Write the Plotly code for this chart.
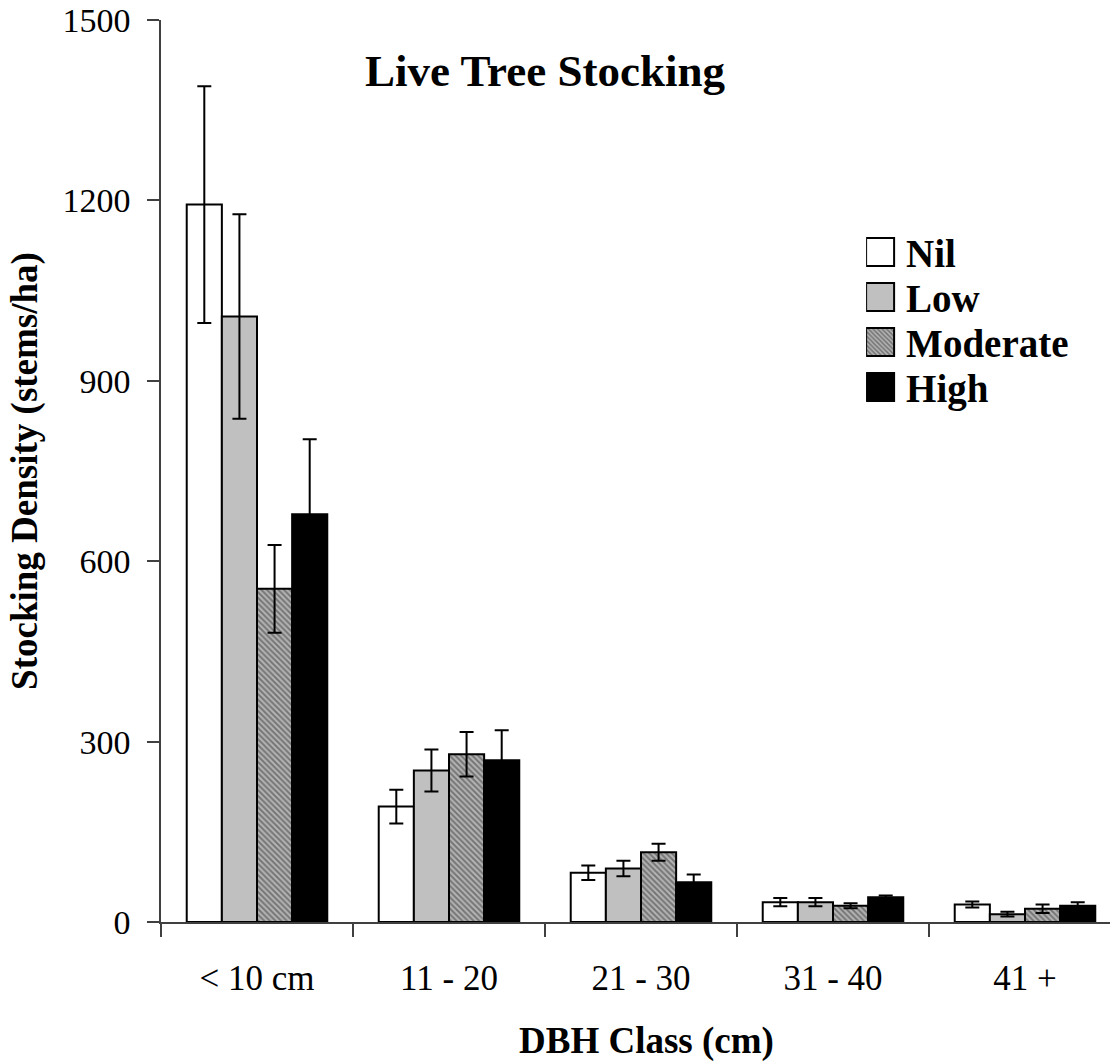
import plotly.graph_objects as go

categories = ["< 10 cm", "11 - 20", "21 - 30", "31 - 40", "41 +"]
series_names = ["Nil", "Low", "Moderate", "High"]
nil_vals = [1193, 192, 82, 33, 29]
nil_err = [197, 28, 12, 7, 5]
low_vals = [1007, 252, 89, 33, 13]
low_err = [170, 35, 13, 7, 4]
mod_vals = [554, 279, 116, 27, 22]
mod_err = [73, 37, 14, 4, 7]
high_vals = [678, 269, 66, 41, 27]
high_err = [125, 50, 13, 3, 6]
y_ticks = [0, 300, 600, 900, 1200, 1500]

FONT = "Liberation Serif, Times New Roman, Times, serif"

fig = go.Figure()

styles = {
    "Nil": dict(color="white"),
    "Low": dict(color="#c0c0c0"),
    "Moderate": dict(color="#8c8c8c",
                     pattern=dict(shape="\\", size=4, solidity=0.5,
                                  fgcolor="#363636", bgcolor="#b4b4b4",
                                  fillmode="overlay")),
    "High": dict(color="black"),
}
data = {
    "Nil": (nil_vals, nil_err),
    "Low": (low_vals, low_err),
    "Moderate": (mod_vals, mod_err),
    "High": (high_vals, high_err),
}

for name in series_names:
    vals, errs = data[name]
    marker = dict(line=dict(color="black", width=2), **styles[name])
    fig.add_trace(go.Bar(
        x=categories, y=vals, name=name, marker=marker,
        error_y=dict(type="data", array=errs, visible=True,
                     color="black", thickness=2, width=7),
    ))

fig.update_layout(
    width=1110, height=1063,
    margin=dict(l=161, r=0, t=20, b=141),
    paper_bgcolor="white", plot_bgcolor="white",
    barmode="group", bargap=0.268, bargroupgap=0,
    font=dict(family=FONT, color="black"),
    title=dict(text="<b>Live Tree Stocking</b>", font=dict(size=45, family=FONT),
               x=545 / 1110, xref="container", xanchor="center",
               y=1 - 70 / 1063, yref="container", yanchor="middle"),
    legend=dict(x=0.743, y=0.778, xanchor="left", yanchor="top",
                font=dict(size=39, family=FONT, color="black", weight="bold"),
                bgcolor="rgba(0,0,0,0)", itemclick=False,
                traceorder="normal"),
    xaxis=dict(
        range=[-0.5, 4.4427], showgrid=False, zeroline=False,
        showline=True, linecolor="#404040", linewidth=1.5,
        ticks="outside", ticklen=13, tickwidth=1.5, tickcolor="#404040",
        tickson="boundaries",
        tickfont=dict(size=35, family=FONT),
        ticklabelstandoff=24,
    ),
    yaxis=dict(
        range=[0, 1500], tickvals=y_ticks, showgrid=False, zeroline=False,
        showline=True, linecolor="#404040", linewidth=1.5,
        ticks="outside", ticklen=12, tickwidth=1.5, tickcolor="#404040",
        tickfont=dict(size=34, family=FONT),
        ticklabelstandoff=10,
        title=dict(text="<b>Stocking Density (stems/ha)</b>",
                   font=dict(size=37, family=FONT), standoff=14),
    ),
    annotations=[dict(
        text="<b>DBH Class (cm)</b>", font=dict(size=37, family=FONT),
        xref="paper", yref="paper", x=(646 - 161) / (1110 - 161),
        y=(922 - 1041) / 902, xanchor="center", yanchor="middle",
        showarrow=False,
    )],
)

post = """
var gd = document.getElementById('{plot_id}');
function fixLegend(){
  var items = gd.querySelectorAll('.legend g.traces');
  var y0 = null;
  items.forEach(function(it, i){
    var tr = it.getAttribute('transform') || '';
    var m = tr.match(/translate\\(([-\\d.e]+)[ ,]+([-\\d.e]+)\\)/);
    if (m) {
      if (y0 === null) { y0 = parseFloat(m[2]); }
      it.setAttribute('transform', 'translate(' + m[1] + ',' + (y0 + i * 45) + ')');
    }
    it.querySelectorAll('.legendpoints path').forEach(function(p){
      p.setAttribute('d', 'M8,14H-20V-14H8Z');
      p.style.strokeWidth = '2px';
    });
  });
}
fixLegend();
gd.on('plotly_afterplot', fixLegend);
setTimeout(fixLegend, 50);
setTimeout(fixLegend, 300);
"""

fig.write_html("out.html", post_script=post)
